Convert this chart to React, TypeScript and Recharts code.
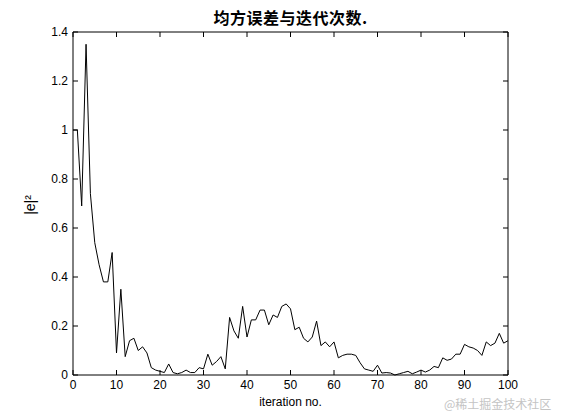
import { LineChart, Line, XAxis, YAxis } from "recharts";

// iteration index 0..100
const iterations = Array.from({ length: 101 }, (_, i) => i);

// squared error
const errorValues = [
  1.0, 1.0, 0.69, 1.35, 0.74, 0.54, 0.45, 0.38, 0.38, 0.5,
  0.09, 0.35, 0.075, 0.14, 0.15, 0.1, 0.115, 0.09, 0.03, 0.02,
  0.015, 0.01, 0.045, 0.01, 0.005, 0.01, 0.02, 0.01, 0.01, 0.03,
  0.025, 0.085, 0.04, 0.055, 0.075, 0.025, 0.235, 0.18, 0.15, 0.28,
  0.155, 0.225, 0.225, 0.265, 0.265, 0.205, 0.245, 0.235, 0.28, 0.29,
  0.27, 0.185, 0.195, 0.15, 0.135, 0.155, 0.22, 0.12, 0.135, 0.115,
  0.135, 0.07, 0.08, 0.085, 0.085, 0.08, 0.05, 0.025, 0.02, 0.015,
  0.04, 0.008, 0.01, 0.008, 0.0, 0.005, 0.01, 0.015, 0.005, 0.012,
  0.02, 0.012, 0.02, 0.035, 0.03, 0.07, 0.06, 0.065, 0.085, 0.085,
  0.125, 0.115, 0.11, 0.1, 0.08, 0.135, 0.12, 0.13, 0.17, 0.13,
  0.14,
];

const xTicks = [0, 10, 20, 30, 40, 50, 60, 70, 80, 90, 100];
const yTicks = [0, 0.2, 0.4, 0.6, 0.8, 1, 1.2, 1.4];

const title = "均方误差与迭代次数.";
const xLabel = "iteration no.";
const yLabel = "|e|²";
const watermark = "@稀土掘金技术社区";

const data = iterations.map((it, i) => ({ it, e: errorValues[i] }));

const FONT = '"Liberation Sans", Arial, sans-serif';
const TICK_LEN = 5;

// MATLAB-style inward ticks
const BottomTick = ({ x, y, payload }: any) => (
  <g>
    <line x1={x} y1={y} x2={x} y2={y - TICK_LEN} stroke="#000" />
    <text x={x} y={y + 14} textAnchor="middle" fontSize={12} fontFamily={FONT} fill="#000">
      {payload.value}
    </text>
  </g>
);

const TopTick = ({ x, y }: any) => (
  <line x1={x} y1={y} x2={x} y2={y + TICK_LEN} stroke="#000" />
);

const LeftTick = ({ x, y, payload }: any) => (
  <g>
    <line x1={x} y1={y} x2={x + TICK_LEN} y2={y} stroke="#000" />
    <text x={x - 5} y={y + 4} textAnchor="end" fontSize={12} fontFamily={FONT} fill="#000">
      {payload.value}
    </text>
  </g>
);

const RightTick = ({ x, y }: any) => (
  <line x1={x} y1={y} x2={x - TICK_LEN} y2={y} stroke="#000" />
);

export default function App() {
  return (
    <div
      style={{
        position: "absolute",
        left: 0,
        top: 0,
        width: 561,
        height: 420,
        background: "#fff",
      }}
    >
      <LineChart
        width={561}
        height={420}
        data={data}
        margin={{ top: 22, right: 43, bottom: 15, left: 13 }}
      >
        <XAxis
          dataKey="it"
          type="number"
          domain={[0, 100]}
          ticks={xTicks}
          height={30}
          tickSize={0}
          tickMargin={0}
          tickLine={false}
          axisLine={{ stroke: "#000" }}
          tick={<BottomTick />}
          interval={0}
        />
        <XAxis
          xAxisId="top"
          orientation="top"
          dataKey="it"
          type="number"
          domain={[0, 100]}
          ticks={xTicks}
          height={10}
          tickSize={0}
          tickMargin={0}
          tickLine={false}
          axisLine={{ stroke: "#000" }}
          tick={<TopTick />}
          interval={0}
        />
        <YAxis
          type="number"
          domain={[0, 1.4]}
          ticks={yTicks}
          width={60}
          tickSize={0}
          tickMargin={0}
          tickLine={false}
          axisLine={{ stroke: "#000" }}
          tick={<LeftTick />}
          interval={0}
        />
        <YAxis
          yAxisId="right"
          orientation="right"
          type="number"
          domain={[0, 1.4]}
          ticks={yTicks}
          width={10}
          tickSize={0}
          tickMargin={0}
          tickLine={false}
          axisLine={{ stroke: "#000" }}
          tick={<RightTick />}
          interval={0}
        />
        <Line
          type="linear"
          dataKey="e"
          stroke="#000"
          strokeWidth={1}
          dot={false}
          activeDot={false}
          isAnimationActive={false}
        />
        <Line
          xAxisId="top"
          yAxisId="right"
          type="linear"
          dataKey="e"
          stroke="none"
          dot={false}
          activeDot={false}
          isAnimationActive={false}
        />
      </LineChart>

      <div
        style={{
          position: "absolute",
          left: 73,
          width: 435,
          top: 8,
          textAlign: "center",
          fontFamily: '"Noto Sans CJK SC", sans-serif',
          fontWeight: "bold",
          fontSize: 16,
          lineHeight: "18px",
          letterSpacing: 0.5,
          color: "#000",
        }}
      >
        {title}
      </div>
      <div
        style={{
          position: "absolute",
          left: 73,
          width: 435,
          top: 395,
          textAlign: "center",
          fontFamily: FONT,
          fontSize: 12,
          lineHeight: "14px",
          color: "#000",
        }}
      >
        {xLabel}
      </div>
      <div
        style={{
          position: "absolute",
          left: 30,
          top: 205,
          transform: "translate(-50%, -50%) rotate(-90deg)",
          fontFamily: FONT,
          fontSize: 14,
          lineHeight: "16px",
          whiteSpace: "nowrap",
          color: "#000",
        }}
      >
        {yLabel}
      </div>
      <div
        style={{
          position: "absolute",
          left: 444,
          top: 397,
          fontFamily: '"Noto Sans CJK SC", sans-serif',
          fontSize: 12,
          lineHeight: "14px",
          whiteSpace: "nowrap",
          color: "#c4c4c4",
        }}
      >
        {watermark}
      </div>
    </div>
  );
}
